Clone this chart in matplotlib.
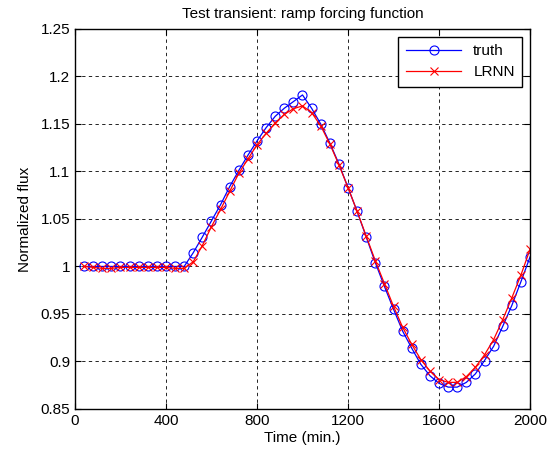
import numpy as np
import matplotlib
matplotlib.use("Agg")
import matplotlib.pyplot as plt
from matplotlib.ticker import FuncFormatter

plt.rcParams['font.family'] = ['Liberation Sans', 'DejaVu Sans']

# time samples (min.)
time = np.arange(40, 2001, 40)

# normalized flux, reference solution
truth = [1.0] * 12 + [
    1.0145, 1.031, 1.048, 1.065, 1.084, 1.101, 1.117, 1.132, 1.146, 1.158,
    1.1665, 1.1735, 1.1805, 1.1665, 1.150, 1.130, 1.108, 1.083, 1.058, 1.031,
    1.004, 0.979, 0.955, 0.932, 0.914, 0.897, 0.885, 0.877, 0.873, 0.873,
    0.878, 0.887, 0.901, 0.916, 0.937, 0.959, 0.984, 1.010]

# LRNN prediction
lrnn = [1.0, 0.999, 0.998, 0.998, 0.999, 0.999, 0.999, 0.999, 0.999, 0.999, 0.998, 0.998,
        1.005, 1.022, 1.042, 1.060, 1.079, 1.098, 1.113, 1.128, 1.140, 1.151,
        1.160, 1.166, 1.169, 1.162, 1.148, 1.129, 1.107, 1.083, 1.058, 1.032,
        1.006, 0.982, 0.958, 0.936, 0.918, 0.902, 0.890, 0.881, 0.878, 0.878,
        0.884, 0.894, 0.907, 0.923, 0.944, 0.967, 0.991, 1.018]

xticks = [0, 400, 800, 1200, 1600, 2000]
yticks = np.arange(0.85, 1.2501, 0.05)

fig = plt.figure(figsize=(5.47, 4.59), dpi=100)
ax = fig.add_axes([0.137, 0.109, 0.832, 0.828])

ax.plot(time, truth, color='blue', marker='o', markerfacecolor='none',
        markersize=6.5, linewidth=0.9, markeredgewidth=0.8, label='truth')
ax.plot(time, lrnn, color='red', marker='x', markersize=5.5,
        linewidth=0.9, markeredgewidth=0.8, label='LRNN')

ax.set_xlim(0, 2000)
ax.set_ylim(0.85, 1.25)
ax.set_xticks(xticks)
ax.set_yticks(yticks)
ax.yaxis.set_major_formatter(FuncFormatter(lambda v, p: '%g' % round(v, 2)))
ax.grid(True, color='black', linestyle=(0, (4, 4)), linewidth=0.6)
ax.tick_params(direction='in', top=True, right=True, length=4, labelsize=11)
for s in ax.spines.values():
    s.set_linewidth(1.0)

ax.set_title('Test transient: ramp forcing function', fontsize=11, pad=8)
ax.set_xlabel('Time (min.)', fontsize=11, labelpad=2)
ax.set_ylabel('Normalized flux', fontsize=11, labelpad=6)

leg = ax.legend(loc='upper right', fontsize=11, fancybox=False, framealpha=1,
                edgecolor='black', handlelength=3.6, borderaxespad=0.5,
                labelspacing=0.45, borderpad=0.5)
leg.get_frame().set_linewidth(1.0)

fig.savefig('out.png', dpi=100)
